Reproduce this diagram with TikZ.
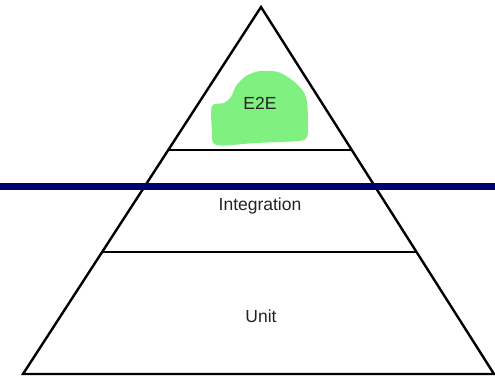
\documentclass[tikz,border=0pt]{standalone}
\usepackage{fontspec}
\setmainfont{Liberation Sans}
\usetikzlibrary{calc,intersections}
\definecolor{blobgreen}{RGB}{128,240,128}
\definecolor{barnavy}{RGB}{0,0,110}
\definecolor{txtgray}{RGB}{35,35,35}
\tikzset{
  edge/.style={draw=black,line width=2.4bp,line join=miter},
  tier/.style={draw=black,line width=2bp},
  lbl/.style={font=\fontsize{17.5bp}{19bp}\selectfont,text=txtgray,inner sep=0pt},
}
\begin{document}
\begin{tikzpicture}[x=1bp,y=-1bp]
\useasboundingbox (0,0) rectangle (495,377);
\fill[white] (0,0) rectangle (495,377);
% green blob
\fill[blobgreen] plot[smooth cycle,tension=0.5] coordinates {
  (212,106) (224,103) (231,97) (236,86) (246,76) (260,71) (278,72) (292,80)
  (303,91) (307,102) (308,122) (307,137) (298,141) (255,143) (216,145) (212,130)};
\coordinate (apex) at (261,7);
\coordinate (bl) at (23,374);
\coordinate (br) at (494,374);
\path[name path=L] (apex) -- (bl);
\path[name path=R] (apex) -- (br);
\path[name path=h1] (0,150) -- (495,150);
\path[name path=h2] (0,252) -- (495,252);
\path[name intersections={of=L and h1,by=l1}];
\path[name intersections={of=R and h1,by=r1}];
\path[name intersections={of=L and h2,by=l2}];
\path[name intersections={of=R and h2,by=r2}];
\draw[tier] (l1) -- (r1);
\draw[tier] (l2) -- (r2);
\draw[edge] (bl) -- (apex) -- (br) -- cycle;
% navy bar
\coordinate (nl) at (0,186);
\coordinate (nr) at (495,186);
\draw[barnavy,line width=7bp] (nl) -- (nr);
\node[lbl] (e2e) at (260,103) {E2E};
\node[lbl] (integ) at (260,206) {Integration};
\node[lbl] (unit) at (261,316) {Unit};
\end{tikzpicture}
\end{document}
